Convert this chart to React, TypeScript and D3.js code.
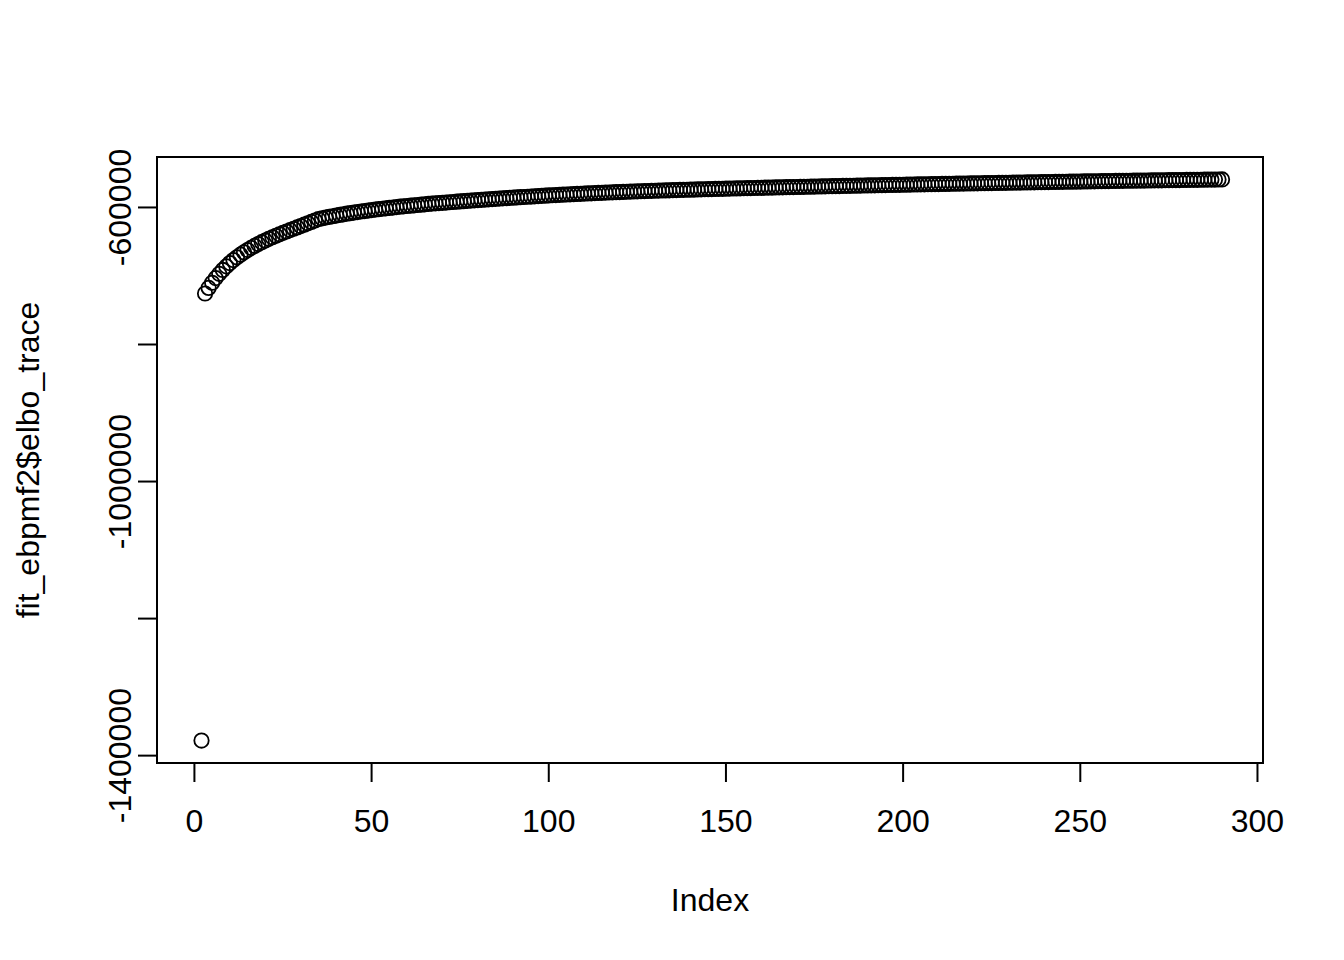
import React, { useEffect, useRef } from "react";
import * as d3 from "d3";

// elbo trace per iteration (index 1 has no finite value, so it is not drawn)
const elboTrace: (number | null)[] = [
  null, -1378000, -725600, -717400, -709900, -703100, -696900, -691200, -686000, -681200,
  -676800, -672700, -668900, -665400, -662100, -659000, -656100, -653300, -650700, -648200,
  -645800, -643500, -641300, -639200, -637100, -635100, -633100, -631100, -629100, -627100,
  -625100, -623100, -621100, -619000, -617000, -615900, -614800, -613800, -612800, -611800,
  -610900, -610000, -609100, -608300, -607500, -606700, -605900, -605200, -604500, -603800,
  -603100, -602500, -601900, -601300, -600700, -600100, -599500, -598900, -598400, -597900,
  -597400, -596900, -596400, -595900, -595400, -594900, -594400, -594000, -593600, -593200,
  -592800, -592400, -592000, -591600, -591200, -590800, -590400, -590000, -589600, -589200,
  -588840, -588480, -588120, -587770, -587420, -587070, -586720, -586380, -586040, -585700,
  -585370, -585040, -584710, -584380, -584060, -583740, -583420, -583110, -582800, -582490,
  -582210, -581930, -581650, -581370, -581100, -580830, -580570, -580310, -580050, -579800,
  -579550, -579310, -579070, -578830, -578600, -578370, -578150, -577930, -577710, -577500,
  -577290, -577090, -576890, -576690, -576500, -576310, -576130, -575950, -575770, -575600,
  -575430, -575260, -575100, -574940, -574780, -574620, -574460, -574310, -574160, -574010,
  -573860, -573710, -573570, -573430, -573290, -573150, -573010, -572870, -572740, -572600,
  -572470, -572340, -572200, -572070, -571940, -571810, -571690, -571560, -571430, -571310,
  -571180, -571060, -570940, -570820, -570700, -570580, -570460, -570340, -570230, -570110,
  -569990, -569870, -569750, -569640, -569520, -569410, -569290, -569180, -569070, -568960,
  -568850, -568730, -568620, -568510, -568400, -568290, -568190, -568080, -567980, -567870,
  -567770, -567660, -567560, -567450, -567350, -567240, -567140, -567030, -566930, -566820,
  -566720, -566620, -566520, -566420, -566320, -566220, -566120, -566020, -565920, -565820,
  -565720, -565620, -565520, -565420, -565320, -565230, -565140, -565040, -564950, -564860,
  -564760, -564670, -564580, -564490, -564390, -564300, -564210, -564110, -564020, -563930,
  -563840, -563740, -563650, -563560, -563470, -563390, -563300, -563210, -563120, -563030,
  -562950, -562860, -562770, -562680, -562590, -562510, -562420, -562330, -562240, -562150,
  -562060, -561980, -561890, -561800, -561710, -561620, -561540, -561450, -561360, -561270,
  -561200, -561130, -561050, -560980, -560910, -560840, -560770, -560690, -560620, -560550,
  -560480, -560410, -560330, -560260, -560190, -560120, -560050, -559970, -559900, -559830,
  -559760, -559690, -559610, -559540, -559470, -559400, -559330, -559250, -559180, -559110,
];

const xTicks = [0, 50, 100, 150, 200, 250, 300];
const yTicks = [-1400000, -1200000, -1000000, -800000, -600000];
// R drops the labels that would overlap
const yLabelTicks = [-1400000, -1000000, -600000];
const xTitle = "Index";
const yTitle = "fit_ebpmf2$elbo_trace";

const FONT = "'Liberation Sans', Arial, Helvetica, sans-serif";

export default function App() {
  const ref = useRef<SVGSVGElement>(null);

  useEffect(() => {
    const box = { left: 157, right: 1263, top: 157, bottom: 763 };
    const tick = 19;

    const svg = d3.select(ref.current);
    svg.selectAll("*").remove();

    const points = elboTrace
      .map((v, i) => ({ index: i + 1, value: v }))
      .filter((d) => d.value != null) as { index: number; value: number }[];

    // R extends the data range by 4% on each side
    const xMin = 1, xMax = elboTrace.length;
    const xPad = (xMax - xMin) * 0.04;
    const x = d3.scaleLinear().domain([xMin - xPad, xMax + xPad]).range([box.left, box.right]);

    const [yMin, yMax] = d3.extent(points, (d) => d.value) as [number, number];
    const yPad = (yMax - yMin) * 0.04;
    const y = d3.scaleLinear().domain([yMin - yPad, yMax + yPad]).range([box.bottom, box.top]);

    // plot box
    svg.append("rect")
      .attr("x", box.left).attr("y", box.top)
      .attr("width", box.right - box.left).attr("height", box.bottom - box.top)
      .attr("fill", "none").attr("stroke", "#000").attr("stroke-width", 2);

    // x axis
    const gx = svg.append("g");
    gx.append("line")
      .attr("x1", x(xTicks[0])).attr("x2", x(xTicks[xTicks.length - 1]))
      .attr("y1", box.bottom).attr("y2", box.bottom)
      .attr("stroke", "#000").attr("stroke-width", 2);
    gx.selectAll(".tick").data(xTicks).enter().append("line")
      .attr("x1", (d) => x(d)).attr("x2", (d) => x(d))
      .attr("y1", box.bottom).attr("y2", box.bottom + tick)
      .attr("stroke", "#000").attr("stroke-width", 2);
    gx.selectAll(".lab").data(xTicks).enter().append("text")
      .attr("x", (d) => x(d)).attr("y", 832)
      .attr("text-anchor", "middle")
      .attr("font-family", FONT).attr("font-size", 32)
      .text((d) => String(d));

    // y axis
    const gy = svg.append("g");
    gy.append("line")
      .attr("x1", box.left).attr("x2", box.left)
      .attr("y1", y(yTicks[0])).attr("y2", y(yTicks[yTicks.length - 1]))
      .attr("stroke", "#000").attr("stroke-width", 2);
    gy.selectAll(".tick").data(yTicks).enter().append("line")
      .attr("x1", box.left - tick).attr("x2", box.left)
      .attr("y1", (d) => y(d)).attr("y2", (d) => y(d))
      .attr("stroke", "#000").attr("stroke-width", 2);
    gy.selectAll(".lab").data(yLabelTicks).enter().append("text")
      .attr("transform", (d) => `translate(131,${y(d)}) rotate(-90)`)
      .attr("text-anchor", "middle")
      .attr("font-family", FONT).attr("font-size", 32)
      .text((d) => String(d));

    // titles
    svg.append("text")
      .attr("x", (box.left + box.right) / 2).attr("y", 911)
      .attr("text-anchor", "middle")
      .attr("font-family", FONT).attr("font-size", 32)
      .text(xTitle);
    svg.append("text")
      .attr("transform", `translate(39,${(box.top + box.bottom) / 2}) rotate(-90)`)
      .attr("text-anchor", "middle")
      .attr("font-family", FONT).attr("font-size", 32)
      .text(yTitle);

    // points (open circles, pch = 1)
    svg.append("g").selectAll("circle").data(points).enter().append("circle")
      .attr("cx", (d) => x(d.index))
      .attr("cy", (d) => y(d.value))
      .attr("r", 7.2)
      .attr("fill", "none")
      .attr("stroke", "#000")
      .attr("stroke-width", 1.8);
  }, []);

  return (
    <svg
      ref={ref}
      width={1344}
      height={960}
      style={{ position: "absolute", left: 0, top: 0, background: "#fff", display: "block" }}
    />
  );
}
